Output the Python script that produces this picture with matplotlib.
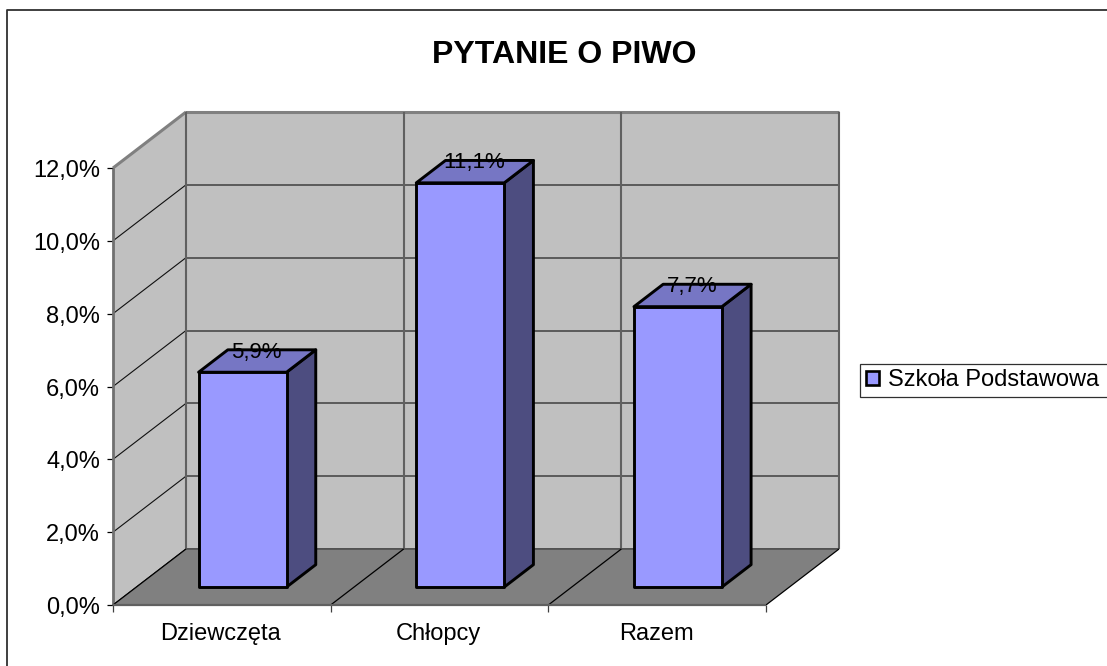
import numpy as np
import matplotlib
matplotlib.use("Agg")
import matplotlib.pyplot as plt
from matplotlib.patches import Polygon, Patch
from matplotlib.lines import Line2D

plt.rcParams['font.family'] = ['Liberation Sans', 'DejaVu Sans']

categories = ['Dziewczęta', 'Chłopcy', 'Razem']
values = [5.9, 11.1, 7.7]
value_labels = ['5,9%', '11,1%', '7,7%']
y_ticks = [0, 2, 4, 6, 8, 10, 12]
y_tick_labels = ['0,0%', '2,0%', '4,0%', '6,0%', '8,0%', '10,0%', '12,0%']
series_name = 'Szkoła Podstawowa'
title = 'PYTANIE O PIWO'

W, H = 1107, 666
# front plane of the 3d box, in pixels
LEFT, RIGHT, BOTTOM, TOP = 113, 766, 605, 168
X_MAX, Y_MAX = 3, 12
PX_X = (RIGHT - LEFT) / X_MAX
PX_Y = (BOTTOM - TOP) / Y_MAX
# shift of the back plane in data units
DEPTH_X = 73 / PX_X
DEPTH_Y = 56 / PX_Y
BAR_W = 0.404
D_FRONT, D_BACK = 0.32, 0.72


def proj(x, y, d=0):
    return (x + d * DEPTH_X, y + d * DEPTH_Y)


def quad(ax, pts, color, z, ec='none', lw=0):
    ax.add_patch(Polygon([proj(*p) for p in pts], closed=True, facecolor=color,
                         edgecolor=ec, linewidth=lw, zorder=z, clip_on=False,
                         joinstyle='round'))


def seg(ax, a, b, color, lw, z):
    pa, pb = proj(*a), proj(*b)
    ax.plot([pa[0], pb[0]], [pa[1], pb[1]], color=color, lw=lw, zorder=z,
            clip_on=False, solid_capstyle='butt')


fig = plt.figure(figsize=(W / 100, H / 100), dpi=100)
ax = fig.add_axes([LEFT / W, 1 - BOTTOM / H, (RIGHT - LEFT) / W, (BOTTOM - TOP) / H])
ax.set_xlim(0, X_MAX)
ax.set_ylim(0, Y_MAX)
ax.axis('off')

# outer frame, only top and left are inside the picture
fig.add_artist(Line2D([6.5 / W, 6.5 / W, 1], [0, 1 - 10 / H, 1 - 10 / H], color='#303030',
                      lw=1.3, transform=fig.transFigure))

# walls and floor
quad(ax, [(0, 0, 1), (X_MAX, 0, 1), (X_MAX, Y_MAX, 1), (0, Y_MAX, 1)], '#C0C0C0', 1)
quad(ax, [(0, 0, 0), (0, 0, 1), (0, Y_MAX, 1), (0, Y_MAX, 0)], '#C0C0C0', 1)

# grid on the walls
for t in y_ticks:
    seg(ax, (0, t, 1), (X_MAX, t, 1), '#404040', 1.1, 2)
    seg(ax, (0, t, 0), (0, t, 1), '#101010', 0.8, 2)
    seg(ax, (-6 / PX_X, t, 0), (0, t, 0), 'black', 0.9, 2)
seg(ax, (0, Y_MAX, 0), (0, Y_MAX, 1), '#808080', 2.2, 2)
seg(ax, (0, Y_MAX, 1), (X_MAX, Y_MAX, 1), '#808080', 2.2, 2)
for i in range(X_MAX + 1):
    seg(ax, (i, 0, 1), (i, Y_MAX, 1), '#606060', 1.5, 2)
seg(ax, (0, 0, 0), (0, Y_MAX, 0), '#707070', 2.0, 3)

quad(ax, [(0, 0, 0), (X_MAX, 0, 0), (X_MAX, 0, 1), (0, 0, 1)], '#808080', 3)
seg(ax, (0, 0, 1), (X_MAX, 0, 1), '#505050', 1.2, 3)
for i in range(X_MAX + 1):
    seg(ax, (i, 0, 0), (i, 0, 1), 'black', 0.9, 4)
    seg(ax, (i, 0, 0), (i, -7 / PX_Y, 0), '#404040', 0.9, 4)
seg(ax, (0, 0, 0), (X_MAX, 0, 0), '#606060', 1.6, 4)

# bars
for i, v in enumerate(values):
    x0 = i + 0.5 - BAR_W / 2 - 0.012
    x1 = x0 + BAR_W
    quad(ax, [(x1, 0, D_FRONT), (x1, 0, D_BACK), (x1, v, D_BACK), (x1, v, D_FRONT)],
         '#4D4D80', 5, 'black', 2.1)
    quad(ax, [(x0, v, D_FRONT), (x1, v, D_FRONT), (x1, v, D_BACK), (x0, v, D_BACK)],
         '#7676C4', 5, 'black', 2.1)
    quad(ax, [(x0, 0, D_FRONT), (x1, 0, D_FRONT), (x1, v, D_FRONT), (x0, v, D_FRONT)],
         '#9999FF', 6, 'black', 2.1)
    lx, ly = proj(x0 + BAR_W / 2, v, 0.5)
    ax.text(lx + 1 / PX_X, ly + 10 / PX_Y, value_labels[i], ha='center', va='center', fontsize=16,
            zorder=7, color='black')

# labels
for t, lab in zip(y_ticks, y_tick_labels):
    ax.text(-13 / PX_X, t - 3 / PX_Y, lab, ha='right', va='center', fontsize=17,
            color='black', clip_on=False)
for i, c in enumerate(categories):
    ax.text(i + 0.5 - 1 / PX_X, -29 / PX_Y, c, ha='center', va='center', fontsize=17,
            color='black', clip_on=False)

fig.text(564 / W, 1 - 55 / H, title, ha='center', va='center', fontsize=23,
         fontweight='bold', color='black')

# legend box runs off the right edge of the picture
leg = fig.legend(handles=[Patch(facecolor='#9999FF', edgecolor='black', linewidth=1.9,
                                label=series_name)],
                 loc='center left', bbox_to_anchor=(860 / W, 1 - 380.5 / H, 260 / W, 0),
                 mode='expand', fontsize=17,
                 frameon=True, fancybox=False, edgecolor='#303030', framealpha=1,
                 handlelength=0.55, handleheight=0.55, handletextpad=0.4,
                 borderpad=0.25, borderaxespad=0)
leg.get_frame().set_linewidth(0.9)

fig.savefig('out.png', dpi=100)
